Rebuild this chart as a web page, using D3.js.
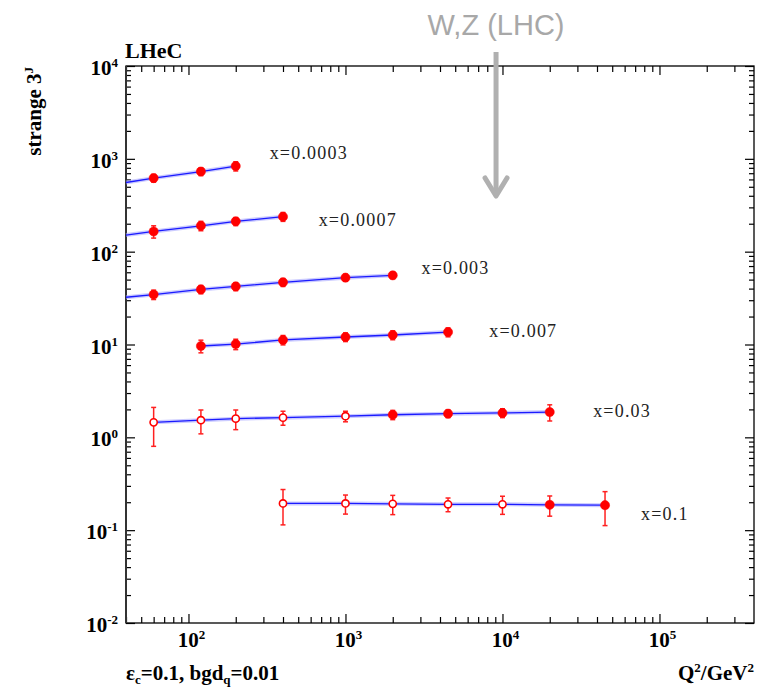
<!DOCTYPE html>
<html>
<head>
<meta charset="utf-8">
<script src="https://cdn.jsdelivr.net/npm/d3@7"></script>
<style>
  body { margin: 0; background: #fff; }
  text { font-family: "Liberation Serif", "DejaVu Serif", serif; }
</style>
</head>
<body>
<div id="grafico"></div>
<script>
// one entry per x bin
var xBins = ["x=0.0003", "x=0.0007", "x=0.003", "x=0.007", "x=0.03", "x=0.1"];

var q2_0003 = [60, 120, 200];
var val_0003 = [620, 730, 835];
var err_0003 = [60, 70, 95];

var q2_0007 = [60, 120, 200, 400];
var val_0007 = [165, 190, 212, 238];
var err_0007 = [25, 22, 21, 26];

var q2_003 = [60, 120, 200, 400, 1000, 2000];
var val_003 = [34.5, 39.2, 42.2, 46.8, 52.5, 55.6];
var err_003 = [4, 4, 4.2, 4.6, 4.5, 4.6];

var q2_007 = [120, 200, 400, 1000, 2000, 4500];
var val_007 = [9.63, 10.1, 11.2, 12.05, 12.65, 13.6];
var err_007 = [1.5, 1.3, 1.3, 1.3, 1.4, 1.5];

var q2_03 = [60, 120, 200, 400, 1000, 2000, 4500, 10000, 20000];
var val_03 = [1.45, 1.53, 1.59, 1.63, 1.69, 1.75, 1.80, 1.83, 1.87];
var err_03 = [0.65, 0.44, 0.38, 0.28, 0.22, 0.2, 0.17, 0.2, 0.37];
var open_03 = [1, 1, 1, 1, 1, 0, 0, 0, 0];

var q2_1 = [400, 1000, 2000, 4500, 10000, 20000, 45000];
var val_1 = [0.194, 0.194, 0.192, 0.190, 0.190, 0.1875, 0.186];
var err_1 = [0.08, 0.045, 0.045, 0.032, 0.042, 0.046, 0.074];
var open_1 = [1, 1, 1, 1, 1, 0, 0];

// curve value at the left edge (Q2 = 40), null = curve starts at first point
var curveStart = [556, 151, 32.3, null, null, null];

// where the x-bin labels sit (data units)
var labelQ2 = [329, 675, 3048, 8240, 37800, 76200];
var labelVal = [989, 191, 57.5, 12.05, 1.66, 0.129];

var xMajor = [1e2, 1e3, 1e4, 1e5];
var yMajor = [1e-2, 1e-1, 1e0, 1e1, 1e2, 1e3, 1e4];
var xExp = ["2", "3", "4", "5"];
var yExp = ["-2", "-1", "0", "1", "2", "3", "4"];

var wzQ2 = 9100;

var rows = [
  [q2_0003, val_0003, err_0003, null],
  [q2_0007, val_0007, err_0007, null],
  [q2_003, val_003, err_003, null],
  [q2_007, val_007, err_007, null],
  [q2_03, val_03, err_03, open_03],
  [q2_1, val_1, err_1, open_1]
];

var svgWidth = 766;
var svgHeight = 690;

var svg = d3.select("#grafico")
  .append("svg")
  .attr("width", svgWidth)
  .attr("height", svgHeight);

var x = d3.scaleLog().domain([40, 4e5]).range([126, 754]);
var y = d3.scaleLog().domain([1e-2, 1e4]).range([623, 66]);

var xMinor = [];
for (var d = 1; d <= 5; d++) {
  for (var k = 2; k <= 9; k++) {
    var v = k * Math.pow(10, d);
    if (v >= 40 && v < 4e5) xMinor.push(v);
  }
}
var yMinor = [];
for (var d = -2; d <= 3; d++) {
  for (var k = 2; k <= 9; k++) yMinor.push(k * Math.pow(10, d));
}

function tickGroup(axis, tx, ty) {
  var g = svg.append("g")
    .attr("transform", "translate(" + tx + "," + ty + ")")
    .call(axis);
  g.select(".domain").remove();
  g.selectAll(".tick line").attr("stroke", "#000").attr("stroke-width", 1.2);
  g.selectAll(".tick text").remove();
}

// ticks point inward on all four sides
tickGroup(d3.axisBottom(x).tickValues(xMinor).tickSize(-6), 0, 623);
tickGroup(d3.axisBottom(x).tickValues(xMajor).tickSize(-9), 0, 623);
tickGroup(d3.axisTop(x).tickValues(xMinor).tickSize(-6), 0, 66);
tickGroup(d3.axisTop(x).tickValues(xMajor).tickSize(-9), 0, 66);
tickGroup(d3.axisLeft(y).tickValues(yMinor).tickSize(-5), 126, 0);
tickGroup(d3.axisLeft(y).tickValues(yMajor).tickSize(-9), 126, 0);
tickGroup(d3.axisRight(y).tickValues(yMinor).tickSize(-5), 754, 0);
tickGroup(d3.axisRight(y).tickValues(yMajor).tickSize(-9), 754, 0);

svg.append("rect")
  .attr("x", 126).attr("y", 66)
  .attr("width", 754 - 126).attr("height", 623 - 66)
  .attr("fill", "none")
  .attr("stroke", "#000")
  .attr("stroke-width", 1.3);
svg.append("line")
  .attr("x1", 126).attr("x2", 126).attr("y1", 66).attr("y2", 623)
  .attr("stroke", "#333").attr("stroke-width", 2);

// tick labels
xMajor.forEach(function (v, i) {
  var t = svg.append("text")
    .attr("x", x(v) + 3).attr("y", 647)
    .attr("text-anchor", "middle")
    .attr("font-weight", "bold")
    .attr("font-size", 21);
  t.append("tspan").text("10");
  t.append("tspan").attr("dy", -8).attr("font-size", 13).text(xExp[i]);
});
yMajor.forEach(function (v, i) {
  var t = svg.append("text")
    .attr("x", 118).attr("y", y(v) + 9)
    .attr("text-anchor", "end")
    .attr("font-weight", "bold")
    .attr("font-size", 21);
  t.append("tspan").text("10");
  t.append("tspan").attr("dy", -8).attr("font-size", 13).text(yExp[i]);
});

var line = d3.line()
  .x(function (p) { return x(p.q); })
  .y(function (p) { return y(p.v); });

rows.forEach(function (r, i) {
  var pts = r[0].map(function (q, j) {
    return { q: q, v: r[1][j], e: r[2][j], open: r[3] ? r[3][j] : 0 };
  });
  var curve = pts.slice();
  if (curveStart[i] !== null) curve.unshift({ q: 40, v: curveStart[i] });

  // blue curve with a pale halo
  svg.append("path").datum(curve)
    .attr("d", line).attr("fill", "none")
    .attr("stroke", "#a8a8ff").attr("stroke-opacity", 0.6)
    .attr("stroke-width", 4);
  svg.append("path").datum(curve)
    .attr("d", line).attr("fill", "none")
    .attr("stroke", "#1a1aff").attr("stroke-width", 1.3);

  var g = svg.append("g");
  var pt = g.selectAll(".pt").data(pts).enter().append("g").attr("class", "pt");
  pt.append("line")
    .attr("x1", function (p) { return x(p.q); })
    .attr("x2", function (p) { return x(p.q); })
    .attr("y1", function (p) { return y(p.v + p.e); })
    .attr("y2", function (p) { return y(p.v - p.e); })
    .attr("stroke", "#ff2020").attr("stroke-width", 1.5);
  [1, -1].forEach(function (s) {
    pt.append("line")
      .attr("x1", function (p) { return x(p.q) - 2.5; })
      .attr("x2", function (p) { return x(p.q) + 2.5; })
      .attr("y1", function (p) { return y(p.v + s * p.e); })
      .attr("y2", function (p) { return y(p.v + s * p.e); })
      .attr("stroke", "#ff2020").attr("stroke-width", 1.5);
  });
  pt.append("circle")
    .attr("cx", function (p) { return x(p.q); })
    .attr("cy", function (p) { return y(p.v); })
    .attr("r", function (p) { return p.open ? 3.6 : 4.6; })
    .attr("fill", function (p) { return p.open ? "#fff" : "#ff0000"; })
    .attr("stroke", "#ff0000")
    .attr("stroke-width", function (p) { return p.open ? 1.6 : 0.5; });

  svg.append("text")
    .attr("x", x(labelQ2[i])).attr("y", y(labelVal[i]))
    .attr("font-size", 18)
    .attr("letter-spacing", 1.2)
    .attr("fill", "#222")
    .text(xBins[i]);
});

// titles
svg.append("text")
  .attr("x", 125).attr("y", 58)
  .attr("font-weight", "bold").attr("font-size", 22)
  .text("LHeC");

var yl = svg.append("text")
  .attr("transform", "translate(41,67) rotate(-90)")
  .attr("text-anchor", "end")
  .attr("font-weight", "bold").attr("font-size", 21);
yl.append("tspan").text("strange 3");
yl.append("tspan").attr("dy", -8).attr("font-size", 13).text("J");

var bl = svg.append("text")
  .attr("x", 126).attr("y", 680)
  .attr("font-weight", "bold").attr("font-size", 21);
bl.append("tspan").text("\u03b5");
bl.append("tspan").attr("dy", 4).attr("font-size", 13).text("c");
bl.append("tspan").attr("dy", -4).text("=0.1, bgd");
bl.append("tspan").attr("dy", 4).attr("font-size", 13).text("q");
bl.append("tspan").attr("dy", -4).text("=0.01");

var xl = svg.append("text")
  .attr("x", 754).attr("y", 680)
  .attr("text-anchor", "end")
  .attr("font-weight", "bold").attr("font-size", 21);
xl.append("tspan").text("Q");
xl.append("tspan").attr("dy", -8).attr("font-size", 13).text("2");
xl.append("tspan").attr("dy", 8).text("/GeV");
xl.append("tspan").attr("dy", -8).attr("font-size", 13).text("2");

// W,Z (LHC) annotation with arrow
var ax = x(wzQ2);
svg.append("text")
  .attr("x", ax).attr("y", 35)
  .attr("text-anchor", "middle")
  .style("font-family", "'Liberation Sans', Arial, sans-serif")
  .attr("font-size", 29)
  .attr("fill", "#a8a8a8")
  .text("W,Z (LHC)");
svg.append("line")
  .attr("x1", ax).attr("x2", ax).attr("y1", 52).attr("y2", 195)
  .attr("stroke", "#b0b0b0").attr("stroke-width", 5);
svg.append("path")
  .attr("d", "M" + (ax - 11) + ",178L" + ax + ",196L" + (ax + 11) + ",178")
  .attr("fill", "none")
  .attr("stroke", "#b0b0b0").attr("stroke-width", 5)
  .attr("stroke-linecap", "round").attr("stroke-linejoin", "round");
</script>
</body>
</html>
